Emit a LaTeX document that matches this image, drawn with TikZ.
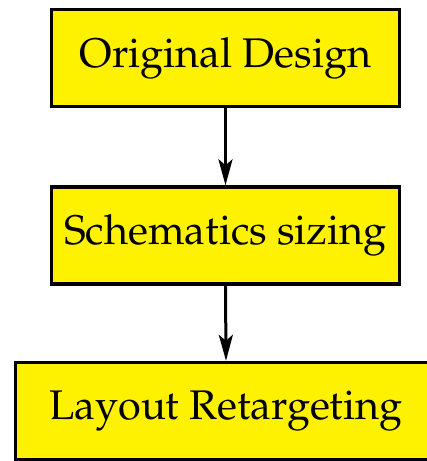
\documentclass[tikz,border=0pt]{standalone}
\usepackage[T1]{fontenc}
\usepackage{mathpazo}
\usetikzlibrary{arrows.meta}
\begin{document}
\begin{tikzpicture}[>={Stealth[length=13pt, width=7pt, inset=3pt]}, x=0.5pt, y=-0.5pt,
    stagebox/.style={draw=black, fill=yellow, line width=1.7pt, minimum width=174pt,
      minimum height=48.5pt, inner sep=0pt, font=\fontsize{20.7}{25}\selectfont},
    flow/.style={->, line width=1.5pt}]
      % Frame of the picture
      \useasboundingbox (0,0) rectangle (427,461);

      % Stages
      \node[stagebox] (orig) at (225.5, 58) {Original Design};
      \node[stagebox] (sizing) at (225.5, 235.5) {Schematics sizing};
      \node[stagebox, minimum width=210.5pt] (retarget) at (226, 411) {Layout Retargeting};

      % Arrows between stages
      \draw[flow] (orig.south) -- (sizing.north);
      \draw[flow] (sizing.south) -- (retarget.north);
    \end{tikzpicture}
\end{document}
